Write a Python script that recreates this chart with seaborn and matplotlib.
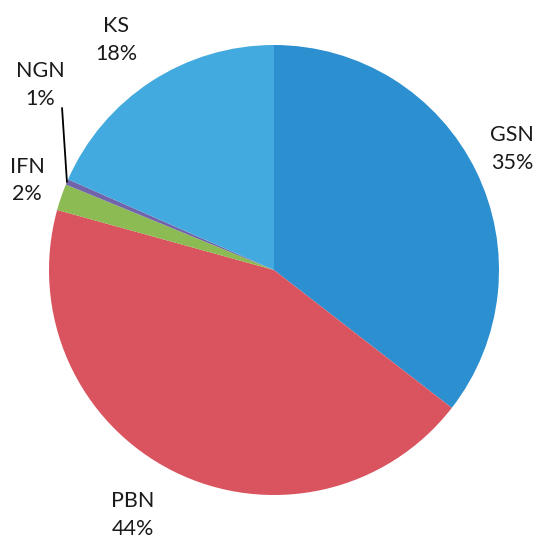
import numpy as np
import matplotlib
matplotlib.use("Agg")
import matplotlib.pyplot as plt
import seaborn as sns

# slice shares (clockwise from 12 o'clock)
categories = ["GSN", "PBN", "IFN", "NGN", "KS"]
shares = [35.5, 43.8, 1.9, 0.4, 18.4]
pct_labels = ["35%", "44%", "2%", "1%", "18%"]

colors = ["#2b8fd0", "#d9545e", "#8bbb52", "#7264aa", "#42aade"]
# label centres in axis units (pie radius = 1)
label_pos = [(1.058, 0.538), (-0.627, -1.089), (-1.098, 0.396),
             (-1.04, 0.822), (-0.702, 1.022)]

sns.set_theme(style="white")
plt.rcParams["font.family"] = ["Lato", "DejaVu Sans"]

fig = plt.figure(figsize=(5.39, 5.43), dpi=100)
ax = fig.add_axes([0, 0, 1, 1])

wedges, _ = ax.pie(shares, colors=colors, startangle=90, counterclock=False,
                   radius=1, center=(0, 0), wedgeprops=dict(linewidth=0))

ax.set_xlim(-274 / 225, 265 / 225)
ax.set_ylim(-273 / 225, 270 / 225)
ax.axis("off")

for name, pct, (x, y) in zip(categories, pct_labels, label_pos):
    ax.text(x, y, f"{name}\n{pct}", ha="center", va="center",
            fontsize=15.5, color="#1a1a1a", linespacing=1.45)

# leader line for the thin NGN slice
w = wedges[categories.index("NGN")]
mid = np.deg2rad((w.theta1 + w.theta2) / 2)
ax.plot([np.cos(mid), -0.942], [np.sin(mid), 0.72], color="black", lw=1.3)

fig.savefig("out.png", dpi=100)
